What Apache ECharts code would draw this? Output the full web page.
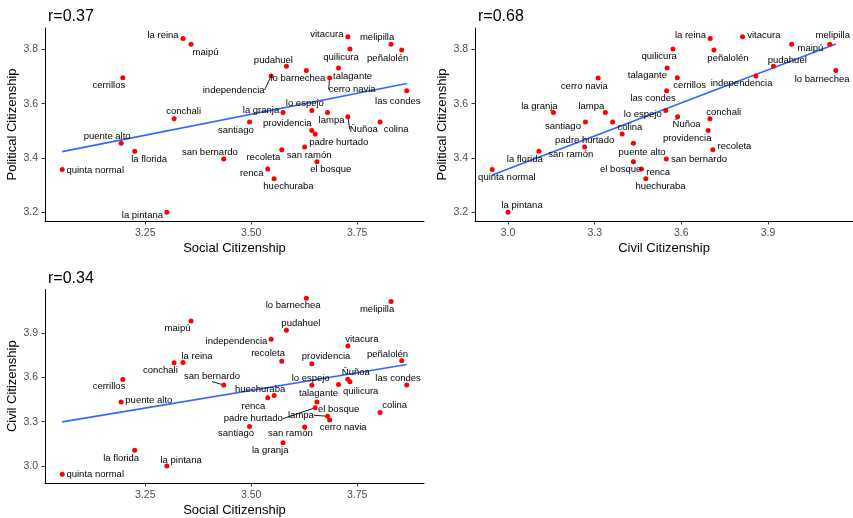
<!DOCTYPE html>
<html>
<head>
<meta charset="utf-8">
<script src="https://cdn.jsdelivr.net/npm/echarts@6/dist/echarts.min.js"></script>
<style>
html,body{margin:0;padding:0;background:#fff;}
#chart{width:853px;height:518px;}
</style>
</head>
<body>
<div id="chart"></div>
<script>
// ---- data ----
const names = ["la reina","maipú","cerrillos","vitacura","melipilla","quilicura","peñalolén","pudahuel",
  "lo barnechea","talagante","cerro navia","independencia","las condes","conchali","la granja","lo espejo",
  "lampa","Ñuñoa","colina","santiago","providencia","padre hurtado","puente alto","la florida",
  "quinta normal","san bernardo","recoleta","san ramón","el bosque","renca","huechuraba","la pintana"];
const social = [3.339,3.358,3.197,3.728,3.830,3.733,3.855,3.583,
  3.630,3.706,3.685,3.547,3.867,3.318,3.575,3.643,
  3.680,3.728,3.804,3.496,3.643,3.651,3.193,3.225,
  3.054,3.435,3.572,3.626,3.655,3.539,3.554,3.301];
const political = [3.841,3.819,3.696,3.847,3.819,3.802,3.798,3.738,
  3.722,3.732,3.695,3.702,3.648,3.544,3.567,3.575,
  3.567,3.552,3.532,3.532,3.501,3.488,3.454,3.424,
  3.357,3.396,3.430,3.440,3.385,3.359,3.323,3.199];
const civil = [3.700,3.982,3.586,3.812,4.114,3.571,3.713,3.919,
  4.135,3.551,3.312,3.858,3.549,3.699,3.157,3.546,
  3.337,3.587,3.362,3.268,3.693,3.395,3.434,3.107,
  2.945,3.548,3.709,3.265,3.434,3.462,3.477,3.000];
const panelTitles = ["r=0.37","r=0.68","r=0.34"];
const socialTicks = [3.25,3.5,3.75];
const politicalTicks = [3.2,3.4,3.6,3.8];
const civilTicks = [3.0,3.3,3.6,3.9];

// ---- label placement (repel-like offsets, px) ----
const offSP = [[-20,-3],[14.5,8],[-14,8],[-21,-2],[-14,-7],[-9,8],[-14,8],[-13,-6],
  [-8.5,8],[14,8],[22.5,11.5],[-37.5,14],[-9,11],[9.5,-7],[-22,-2],[-7,-7],
  [4,8],[16,13],[16,7],[-13.7,8],[-24.5,-7],[23.5,8.4],[-14,-7],[14.4,7.6],
  [33,1.3],[-13.8,-6.6],[-18.4,7.3],[4.5,8.4],[13.8,7.7],[-16,4],[14.3,7.7],[-24.5,3]];
const offCP = [[-19.7,-3.3],[18.8,4],[12.3,8],[21.3,-1.7],[3,-9.3],[-13.8,7.7],[14,8.3],[13.8,-6],
  [-13.7,8.3],[-19.8,7.7],[-13.8,8],[-14.3,7.3],[-13.5,8],[13.8,-6.3],[-14,-6.3],[-23,4.3],
  [-14,-6.7],[9,8],[17.3,5],[-22.5,4.7],[-21,7.7],[-37.5,6.3],[8.7,9],[-14.2,7.7],
  [14.7,7.7],[32.7,0.3],[21.7,-3.3],[-13.8,7.7],[-12.7,7.7],[16.7,3],[14.7,7.7],[14,-6.7]];
const offSC = [[14,-6.7],[-13.5,7.3],[-13.8,7.3],[14,-6.7],[-14,8],[10.7,10],[-14.2,-6.5],[14.5,-7],
  [-13.2,7.3],[-20,9],[13.5,7.3],[-34.7,2.5],[-8.7,-6.3],[-13.8,8],[-12.8,8],[-1.2,-6.5],
  [-26.6,-1],[8,-7],[14.5,-6.7],[-13.5,7.3],[14.2,-7.3],[-62,11],[27.7,-1.7],[-13.5,7.7],
  [33,0],[-11.7,-8.5],[-13.7,-7.4],[-14.3,6.6],[21.7,7.3],[-14.4,8.3],[-14,-6],[14.2,-6]];
const leadSP = [10,11,17];
const leadCP = [];
const leadSC = [16,21,25];

const FONT = "Liberation Sans";

function expRange(arr){
  const mn = Math.min(...arr), mx = Math.max(...arr);
  const d = (mx - mn) * 0.05;
  return [mn - d, mx + d];
}
function lm(xs, ys){
  const n = xs.length;
  const mx = xs.reduce((a,b)=>a+b,0)/n, my = ys.reduce((a,b)=>a+b,0)/n;
  let sxy=0, sxx=0;
  for(let i=0;i<n;i++){ sxy += (xs[i]-mx)*(ys[i]-my); sxx += (xs[i]-mx)*(xs[i]-mx); }
  const b = sxy/sxx, a = my - b*mx;
  const x0 = Math.min(...xs), x1 = Math.max(...xs);
  return [[x0, a+b*x0],[x1, a+b*x1]];
}

const grids = [
  {left:45, top:28, width:379, height:193},
  {left:475, top:28, width:378, height:193},
  {left:45, top:289.5, width:379, height:193.5}
];

function makeAxis(gi, dim, vals, ticks, dec, name, gap){
  const r = expRange(vals);
  return {
    type:'value', gridIndex:gi, min:r[0], max:r[1],
    name:name, nameLocation:'middle', nameGap:gap,
    nameTextStyle:{color:'#000', fontSize:13, fontFamily:FONT},
    axisLine:{show:true, lineStyle:{color:'#000', width:1}},
    axisTick:{show:true, length:3.5, customValues:ticks, lineStyle:{color:'#333', width:1}},
    axisLabel:{show:true, customValues:ticks, color:'#4D4D4D', fontSize:10.5, fontFamily:FONT,
      margin:7, formatter:(v)=>Number(v).toFixed(dec)},
    splitLine:{show:false}
  };
}

const xAxes = [
  makeAxis(0,'x',social,socialTicks,2,'Social Citizenship',21),
  makeAxis(1,'x',civil,civilTicks,1,'Civil Citizenship',21),
  makeAxis(2,'x',social,socialTicks,2,'Social Citizenship',21)
];
const yAxes = [
  makeAxis(0,'y',political,politicalTicks,1,'Political Citizenship',26),
  makeAxis(1,'y',political,politicalTicks,1,'Political Citizenship',26),
  makeAxis(2,'y',civil,civilTicks,1,'Civil Citizenship',26)
];

function scatter(gi, xs, ys, offs, leads){
  const data = names.map((n,i)=>{
    const item = {name:n, value:[xs[i], ys[i]]};
    if(leads.indexOf(i) >= 0) item.labelLine = {show:true};
    return item;
  });
  return {
    type:'scatter', xAxisIndex:gi, yAxisIndex:gi, data:data, z:3,
    symbolSize:5, itemStyle:{color:'#FF0000', opacity:1},
    label:{show:true, position:'inside', formatter:(p)=>p.name, color:'#000',
      fontSize:9.5, fontFamily:FONT},
    labelLine:{show:false, lineStyle:{color:'#000', width:0.9}},
    labelLayout:function(p){ const o = offs[p.dataIndex]; return {dx:o[0], dy:o[1]}; },
    emphasis:{disabled:true}, silent:true, animation:false
  };
}
function fitLine(gi, xs, ys){
  return {
    type:'line', xAxisIndex:gi, yAxisIndex:gi, data:lm(xs, ys), z:2,
    showSymbol:false, symbol:'none', lineStyle:{color:'#3366FF', width:1.6},
    silent:true, animation:false
  };
}

const chart = echarts.init(document.getElementById('chart'), null, {renderer:'canvas'});
chart.setOption({
  backgroundColor:'#fff',
  animation:false,
  title:[
    {text:panelTitles[0], left:43, top:4, textStyle:{fontSize:16, fontWeight:'normal', color:'#000', fontFamily:FONT}},
    {text:panelTitles[1], left:473, top:4, textStyle:{fontSize:16, fontWeight:'normal', color:'#000', fontFamily:FONT}},
    {text:panelTitles[2], left:43, top:266, textStyle:{fontSize:16, fontWeight:'normal', color:'#000', fontFamily:FONT}}
  ],
  grid:grids,
  xAxis:xAxes,
  yAxis:yAxes,
  series:[
    fitLine(0, social, political), scatter(0, social, political, offSP, leadSP),
    fitLine(1, civil, political), scatter(1, civil, political, offCP, leadCP),
    fitLine(2, social, civil), scatter(2, social, civil, offSC, leadSC)
  ]
});
</script>
</body>
</html>
